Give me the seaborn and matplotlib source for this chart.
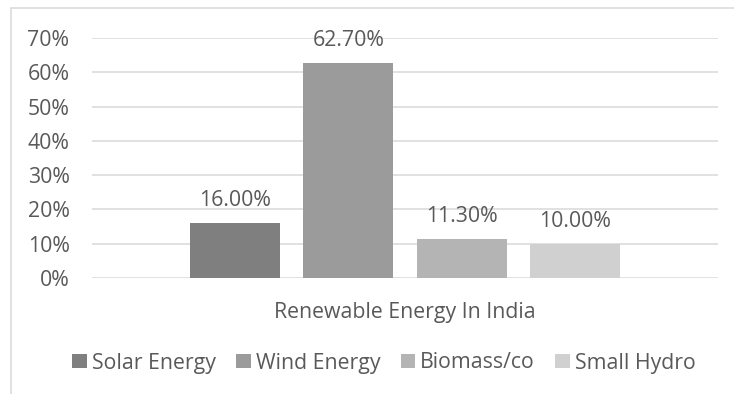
import matplotlib
matplotlib.use("Agg")
import matplotlib.pyplot as plt
from matplotlib.lines import Line2D
import seaborn as sns
import pandas as pd

category = ["Renewable Energy In India"]
series = ["Solar Energy", "Wind Energy", "Biomass/co", "Small Hydro"]
values = [0.16, 0.627, 0.113, 0.10]
value_labels = ["16.00%", "62.70%", "11.30%", "10.00%"]
colors = ["#7f7f7f", "#9b9b9b", "#b4b4b4", "#d0d0d0"]
yticks = [0.0, 0.1, 0.2, 0.3, 0.4, 0.5, 0.6, 0.7]
ytick_labels = ["0%", "10%", "20%", "30%", "40%", "50%", "60%", "70%"]

df = pd.DataFrame({"category": category * len(series), "series": series, "value": values})

sns.set_theme(style="white")
plt.rcParams["font.family"] = ["Open Sans", "DejaVu Sans"]
TXT = "#595959"
FS = 15.3

W, H = 734, 394
fig = plt.figure(figsize=(W / 100, H / 100), dpi=100)
ax = fig.add_axes([92 / W, 1 - 278 / H, (718 - 92) / W, (278 - 38) / H])

sns.barplot(data=df, x="category", y="value", hue="series", palette=colors,
            width=0.724, gap=0.205, ax=ax, saturation=1, edgecolor="none", linewidth=0)

ax.set_xlim(-0.5, 0.5)
ax.set_ylim(0, 0.7)
ax.set_yticks(yticks)
ax.set_yticklabels(ytick_labels)
ax.grid(axis="y", color="#d9d9d9", linewidth=1.1)
ax.set_axisbelow(True)
for s in ax.spines.values():
    s.set_visible(False)
ax.tick_params(axis="y", length=0, pad=16.2, labelsize=FS, labelcolor=TXT)
ax.tick_params(axis="x", length=0, pad=17.5, labelsize=FS, labelcolor=TXT)
ax.set_xlabel("")
ax.set_ylabel("")

for cont, lab in zip(ax.containers, value_labels):
    for p in cont.patches:
        ax.annotate(lab, (p.get_x() + p.get_width() / 2, p.get_height()),
                    xytext=(0, 12.2), textcoords="offset points",
                    ha="center", va="baseline", fontsize=FS, color=TXT)

handles, labels = ax.get_legend_handles_labels()
if ax.get_legend() is not None:
    ax.get_legend().remove()
fig.legend(handles, labels, loc="center", bbox_to_anchor=(384 / W, 1 - 363 / H),
           ncol=4, frameon=False, fontsize=FS, labelcolor=TXT,
           handlelength=0.68, handleheight=0.68, handletextpad=0.25, columnspacing=0.95,
           borderaxespad=0, borderpad=0)

# chart-area border (extends beyond the image on right and bottom)
fig.add_artist(Line2D([11 / W, 1.05], [1 - 8 / H, 1 - 8 / H], transform=fig.transFigure,
                      color="#d9d9d9", linewidth=1.1))
fig.add_artist(Line2D([11 / W, 11 / W], [-0.05, 1 - 8 / H], transform=fig.transFigure,
                      color="#d9d9d9", linewidth=1.1))

fig.savefig("out.png", dpi=100, facecolor="white")
